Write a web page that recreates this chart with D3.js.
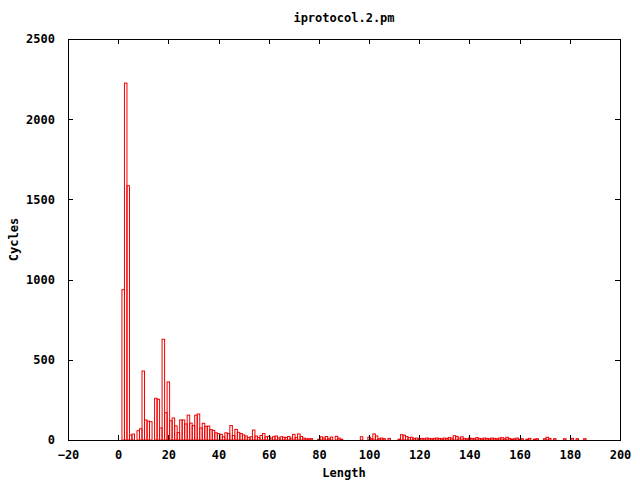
<!DOCTYPE html>
<html>
<head>
<meta charset="utf-8">
<script src="https://cdn.jsdelivr.net/npm/d3@7"></script>
<style>
  html, body { margin: 0; padding: 0; background: #fff; }
  svg { display: block; }
  text { font-family: "DejaVu Sans Mono", "Liberation Mono", monospace; font-weight: bold; font-size: 12px; fill: #000; }
</style>
</head>
<body>
<svg id="chart" width="640" height="480"></svg>
<script>
const title = "iprotocol.2.pm";
const xLabel = "Length";
const yLabel = "Cycles";
const xTicks = [-20, 0, 20, 40, 60, 80, 100, 120, 140, 160, 180, 200];
const yTicks = [0, 500, 1000, 1500, 2000, 2500];

const lengths = [
  2, 3, 4, 5, 6, 7, 8, 9, 10, 11, 12, 13, 14, 15, 16, 17, 18, 19, 20,
  21, 22, 23, 24, 25, 26, 27, 28, 29, 30, 31, 32, 33, 34, 35, 36, 37, 38, 39, 40,
  41, 42, 43, 44, 45, 46, 47, 48, 49, 50, 51, 52, 53, 54, 55, 56, 57, 58, 59, 60,
  61, 62, 63, 64, 65, 66, 67, 68, 69, 70, 71, 72, 73, 74, 75, 76, 77, 78, 79, 80,
  81, 82, 83, 84, 85, 86, 87, 88, 89, 90, 91, 92, 93, 94, 95, 96, 97, 98, 99, 100,
  101, 102, 103, 104, 105, 106, 107, 108, 109, 110, 111, 112, 113, 114, 115, 116, 117, 118, 119, 120,
  121, 122, 123, 124, 125, 126, 127, 128, 129, 130, 131, 132, 133, 134, 135, 136, 137, 138, 139, 140,
  141, 142, 143, 144, 145, 146, 147, 148, 149, 150, 151, 152, 153, 154, 155, 156, 157, 158, 159, 160,
  161, 162, 163, 164, 165, 166, 167, 168, 169, 170, 171, 172, 173, 174, 175, 176, 177, 178, 179, 180,
  181, 182, 183, 184, 185, 186
];
const cycles = [
  937, 2225, 1585, 30, 37, 0, 58, 70, 430, 125, 118, 114, 0, 260, 254, 75, 628, 170, 362,
  120, 137, 88, 46, 125, 125, 100, 155, 105, 90, 155, 162, 75, 104, 85, 87, 65, 60, 45, 40,
  35, 20, 45, 40, 90, 28, 66, 48, 40, 32, 25, 15, 20, 62, 25, 15, 28, 40, 20, 23,
  12, 20, 25, 12, 20, 18, 15, 22, 12, 35, 15, 38, 22, 12, 8, 8, 8, 0, 0, 5,
  20, 12, 22, 8, 18, 0, 23, 12, 5, 0, 0, 0, 0, 0, 0, 0, 20, 0, 0, 18,
  8, 38, 25, 8, 12, 8, 0, 10, 0, 0, 0, 5, 33, 30, 22, 15, 17, 10, 12, 8,
  10, 8, 12, 10, 8, 10, 12, 10, 8, 12, 10, 15, 12, 27, 22, 12, 20, 10, 8, 12,
  10, 8, 15, 10, 8, 12, 10, 8, 12, 10, 8, 12, 15, 8, 17, 10, 5, 8, 12, 5,
  8, 0, 5, 10, 0, 5, 8, 0, 0, 8, 17, 10, 0, 8, 0, 0, 0, 8, 0, 0,
  10, 0, 8, 0, 0, 8
];

const svg = d3.select("#chart");
const m = { left: 68, right: 620, top: 39, bottom: 440 };

const x = d3.scaleLinear().domain([-20, 200]).range([m.left, m.right]);
const y = d3.scaleLinear().domain([0, 2500]).range([m.bottom, m.top]);

const data = lengths.map((l, i) => ({ l, v: cycles[i] }));

// bars (boxes of width 1)
svg.append("g")
  .selectAll("rect")
  .data(data.filter(d => d.v > 0))
  .join("rect")
  .attr("x", d => x(d.l - 0.5))
  .attr("width", d => x(d.l + 0.5) - x(d.l - 0.5))
  .attr("y", d => y(d.v))
  .attr("height", d => y(0) - y(d.v))
  .attr("fill", "none")
  .attr("stroke", "#ee0000")
  .attr("stroke-width", 1);

const tickLen = 5;
const xAxisB = d3.axisBottom(x).tickValues(xTicks).tickSize(-tickLen).tickPadding(tickLen + 5).tickFormat(d3.format("d"));
const gxb = svg.append("g").attr("transform", `translate(0,${m.bottom})`).call(xAxisB);
const xAxisT = d3.axisTop(x).tickValues(xTicks).tickSize(-tickLen).tickFormat("");
const gxt = svg.append("g").attr("transform", `translate(0,${m.top})`).call(xAxisT);
const yAxisL = d3.axisLeft(y).tickValues(yTicks).tickSize(-tickLen).tickPadding(tickLen + 8).tickFormat(d3.format("d"));
const gyl = svg.append("g").attr("transform", `translate(${m.left},0)`).call(yAxisL);
const yAxisR = d3.axisRight(y).tickValues(yTicks).tickSize(-tickLen).tickFormat("");
const gyr = svg.append("g").attr("transform", `translate(${m.right},0)`).call(yAxisR);

[gxb, gxt, gyl, gyr].forEach(g => {
  g.select(".domain").remove();
  g.selectAll("line").attr("stroke", "#000").attr("shape-rendering", "crispEdges");
  g.selectAll("text").attr("font-family", null).attr("font-size", null).style("fill", "#000");
});
gxb.selectAll(".tick line").filter(d => d === -20 || d === 200).remove();
gxt.selectAll(".tick line").filter(d => d === -20 || d === 200).remove();
gyl.selectAll(".tick line").filter(d => d === 0 || d === 2500).remove();
gyr.selectAll(".tick line").filter(d => d === 0 || d === 2500).remove();

svg.append("rect")
  .attr("x", m.left + 0.5).attr("y", m.top + 0.5)
  .attr("width", m.right - m.left).attr("height", m.bottom - m.top)
  .attr("fill", "none").attr("stroke", "#000").attr("stroke-width", 1)
  .attr("shape-rendering", "crispEdges");

svg.append("text").attr("x", (m.left + m.right) / 2).attr("y", 22)
  .attr("text-anchor", "middle").text(title);
svg.append("text").attr("x", (m.left + m.right) / 2).attr("y", 477)
  .attr("text-anchor", "middle").text(xLabel);
svg.append("text")
  .attr("transform", `translate(18,${(m.top + m.bottom) / 2}) rotate(-90)`)
  .attr("text-anchor", "middle").text(yLabel);
</script>
</body>
</html>
